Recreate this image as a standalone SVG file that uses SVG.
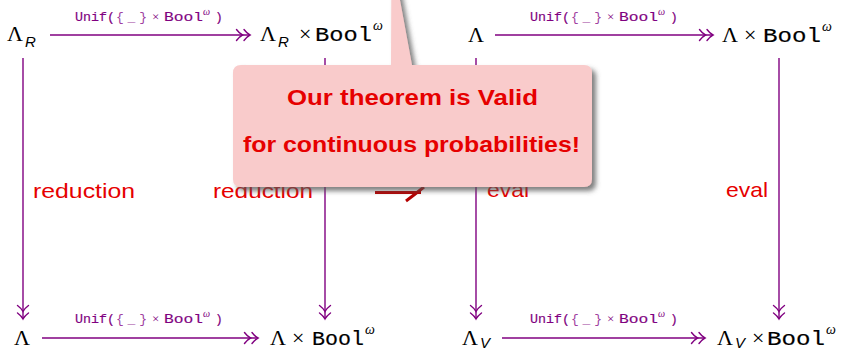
<svg xmlns="http://www.w3.org/2000/svg" width="842" height="349" viewBox="0 0 842 349">
<style>
  .math{font-family:"Liberation Serif","DejaVu Serif",serif;font-size:22px;fill:#000}
  .sub{font-family:"Liberation Sans","DejaVu Sans",sans-serif;font-style:italic;font-size:15px;fill:#000}
  .tt{font-family:"Liberation Mono","DejaVu Sans Mono",monospace;font-size:20px;fill:#000;stroke:#000;stroke-width:0.15}
  .om{font-family:"Liberation Serif","DejaVu Serif",serif;font-style:italic;font-size:14px;fill:#000}
  .lt{font-family:"Liberation Mono","DejaVu Sans Mono",monospace;font-size:13px;fill:#800080;stroke:#800080;stroke-width:0.15}
  .lm{font-family:"Liberation Serif","DejaVu Serif",serif;font-size:13px;fill:#800080}
  .lo{font-family:"Liberation Serif","DejaVu Serif",serif;font-style:italic;font-size:10px;fill:#800080}
  .lbl{font-family:"Liberation Sans","DejaVu Sans",sans-serif;font-size:21px;fill:#e60000}
  .edge{stroke:#800080;stroke-width:1.4;fill:none}
  .call{font-family:"Liberation Sans","DejaVu Sans",sans-serif;font-weight:bold;font-size:22px;fill:#e60000}
</style>
<defs>
  <marker id="dh" markerUnits="userSpaceOnUse" markerWidth="20" markerHeight="14" refX="17" refY="7" orient="auto" overflow="visible">
    <path d="M11,1.5 Q14,5.5 17,7 Q14,8.5 11,12.5 M3.5,1.5 Q6.5,5.5 9.5,7 Q6.5,8.5 3.5,12.5" stroke="#800080" stroke-width="1.4" fill="none" stroke-linecap="round"/>
  </marker>
  <g id="unif">
    <text class="lt" x="0" y="0" textLength="40" lengthAdjust="spacingAndGlyphs">Unif(</text>
    <text class="lt" x="41" y="0" textLength="31" lengthAdjust="spacing" style="fill:#a040a0;stroke:none">{_}</text>
    <text class="lm" x="77" y="0">×</text>
    <text class="lt" x="89" y="0" textLength="39" lengthAdjust="spacingAndGlyphs">Bool</text>
    <text class="lo" x="128" y="-6">ω</text>
    <text class="lt" x="140" y="0">)</text>
  </g>
  <filter id="sh" x="-10%" y="-10%" width="130%" height="130%">
    <feDropShadow dx="4" dy="4" stdDeviation="2.5" flood-color="#555" flood-opacity="0.75"/>
  </filter>
</defs>

<g id="connectors">
  <line class="edge" x1="50" y1="35" x2="250" y2="35" marker-end="url(#dh)"/>
  <line class="edge" x1="495" y1="35" x2="713" y2="35" marker-end="url(#dh)"/>
  <line class="edge" x1="42" y1="338" x2="258" y2="338" marker-end="url(#dh)"/>
  <line class="edge" x1="502" y1="338" x2="705" y2="338" marker-end="url(#dh)"/>
  <line class="edge" x1="23" y1="58" x2="23" y2="319" marker-end="url(#dh)"/>
  <line class="edge" x1="325" y1="58" x2="325" y2="319" marker-end="url(#dh)"/>
  <line class="edge" x1="476" y1="58" x2="476" y2="319" marker-end="url(#dh)"/>
  <line class="edge" x1="779" y1="58" x2="779" y2="319" marker-end="url(#dh)"/>
  <use href="#unif" x="75" y="21"/>
  <use href="#unif" x="530" y="21"/>
  <use href="#unif" x="75" y="323"/>
  <use href="#unif" x="530" y="323"/>
  <text class="lbl" x="33" y="198" textLength="102" lengthAdjust="spacingAndGlyphs">reduction</text>
  <text class="lbl" x="213" y="198" textLength="100" lengthAdjust="spacingAndGlyphs">reduction</text>
  <text class="lbl" x="487" y="197" textLength="42" lengthAdjust="spacingAndGlyphs">eval</text>
  <text class="lbl" x="726" y="197" textLength="42" lengthAdjust="spacingAndGlyphs">eval</text>
</g>

<g id="n-lr">
  <text class="math" x="7" y="41">Λ</text><text class="sub" x="25" y="47">R</text>
</g>
<g id="n-lr-bool">
  <text class="math" x="260" y="41">Λ</text><text class="sub" x="278" y="47">R</text>
  <text class="math" x="299" y="41">×</text>
  <text class="tt" x="315" y="41" textLength="57" lengthAdjust="spacingAndGlyphs">Bool</text>
  <text class="om" x="373" y="30">ω</text>
</g>
<g id="n-l">
  <text class="math" x="468" y="42">Λ</text>
</g>
<g id="n-l-bool">
  <text class="math" x="722" y="42">Λ</text>
  <text class="math" x="744" y="42">×</text>
  <text class="tt" x="763" y="42" textLength="58" lengthAdjust="spacingAndGlyphs">Bool</text>
  <text class="om" x="822" y="31">ω</text>
</g>
<g id="n-l2">
  <text class="math" x="14" y="345">Λ</text>
</g>
<g id="n-l2-bool">
  <text class="math" x="270" y="345">Λ</text>
  <text class="math" x="292" y="345">×</text>
  <text class="tt" x="312" y="345" textLength="52" lengthAdjust="spacingAndGlyphs">Bool</text>
  <text class="om" x="365" y="334">ω</text>
</g>
<g id="n-lv">
  <text class="math" x="462" y="345">Λ</text><text class="sub" x="480" y="348">V</text>
</g>
<g id="n-lv-bool">
  <text class="math" x="717" y="345">Λ</text><text class="sub" x="735" y="348">V</text>
  <text class="math" x="752" y="345">×</text>
  <text class="tt" x="767" y="345" textLength="58" lengthAdjust="spacingAndGlyphs">Bool</text>
  <text class="om" x="826" y="334">ω</text>
</g>

<g id="red-arrow">
  <path d="M375,192.5 H421" stroke="#b40000" stroke-width="3" fill="none"/>
  <path d="M406,201 Q414,195 424,187" stroke="#b40000" stroke-width="3" fill="none"/>
</g>

<g id="callout">
  <g filter="url(#sh)">
    <path d="M241,65 H391 L391.5,-46 L412,65 H584 Q592,65 592,73 V179 Q592,187 584,187 H241 Q233,187 233,179 V73 Q233,65 241,65 Z" fill="#f9cbcb"/>
  </g>
  <text class="call" x="412.5" y="105" text-anchor="middle" textLength="251" lengthAdjust="spacingAndGlyphs">Our theorem is Valid</text>
  <text class="call" x="411.5" y="152" text-anchor="middle" textLength="337" lengthAdjust="spacingAndGlyphs">for continuous probabilities!</text>
</g>
</svg>
